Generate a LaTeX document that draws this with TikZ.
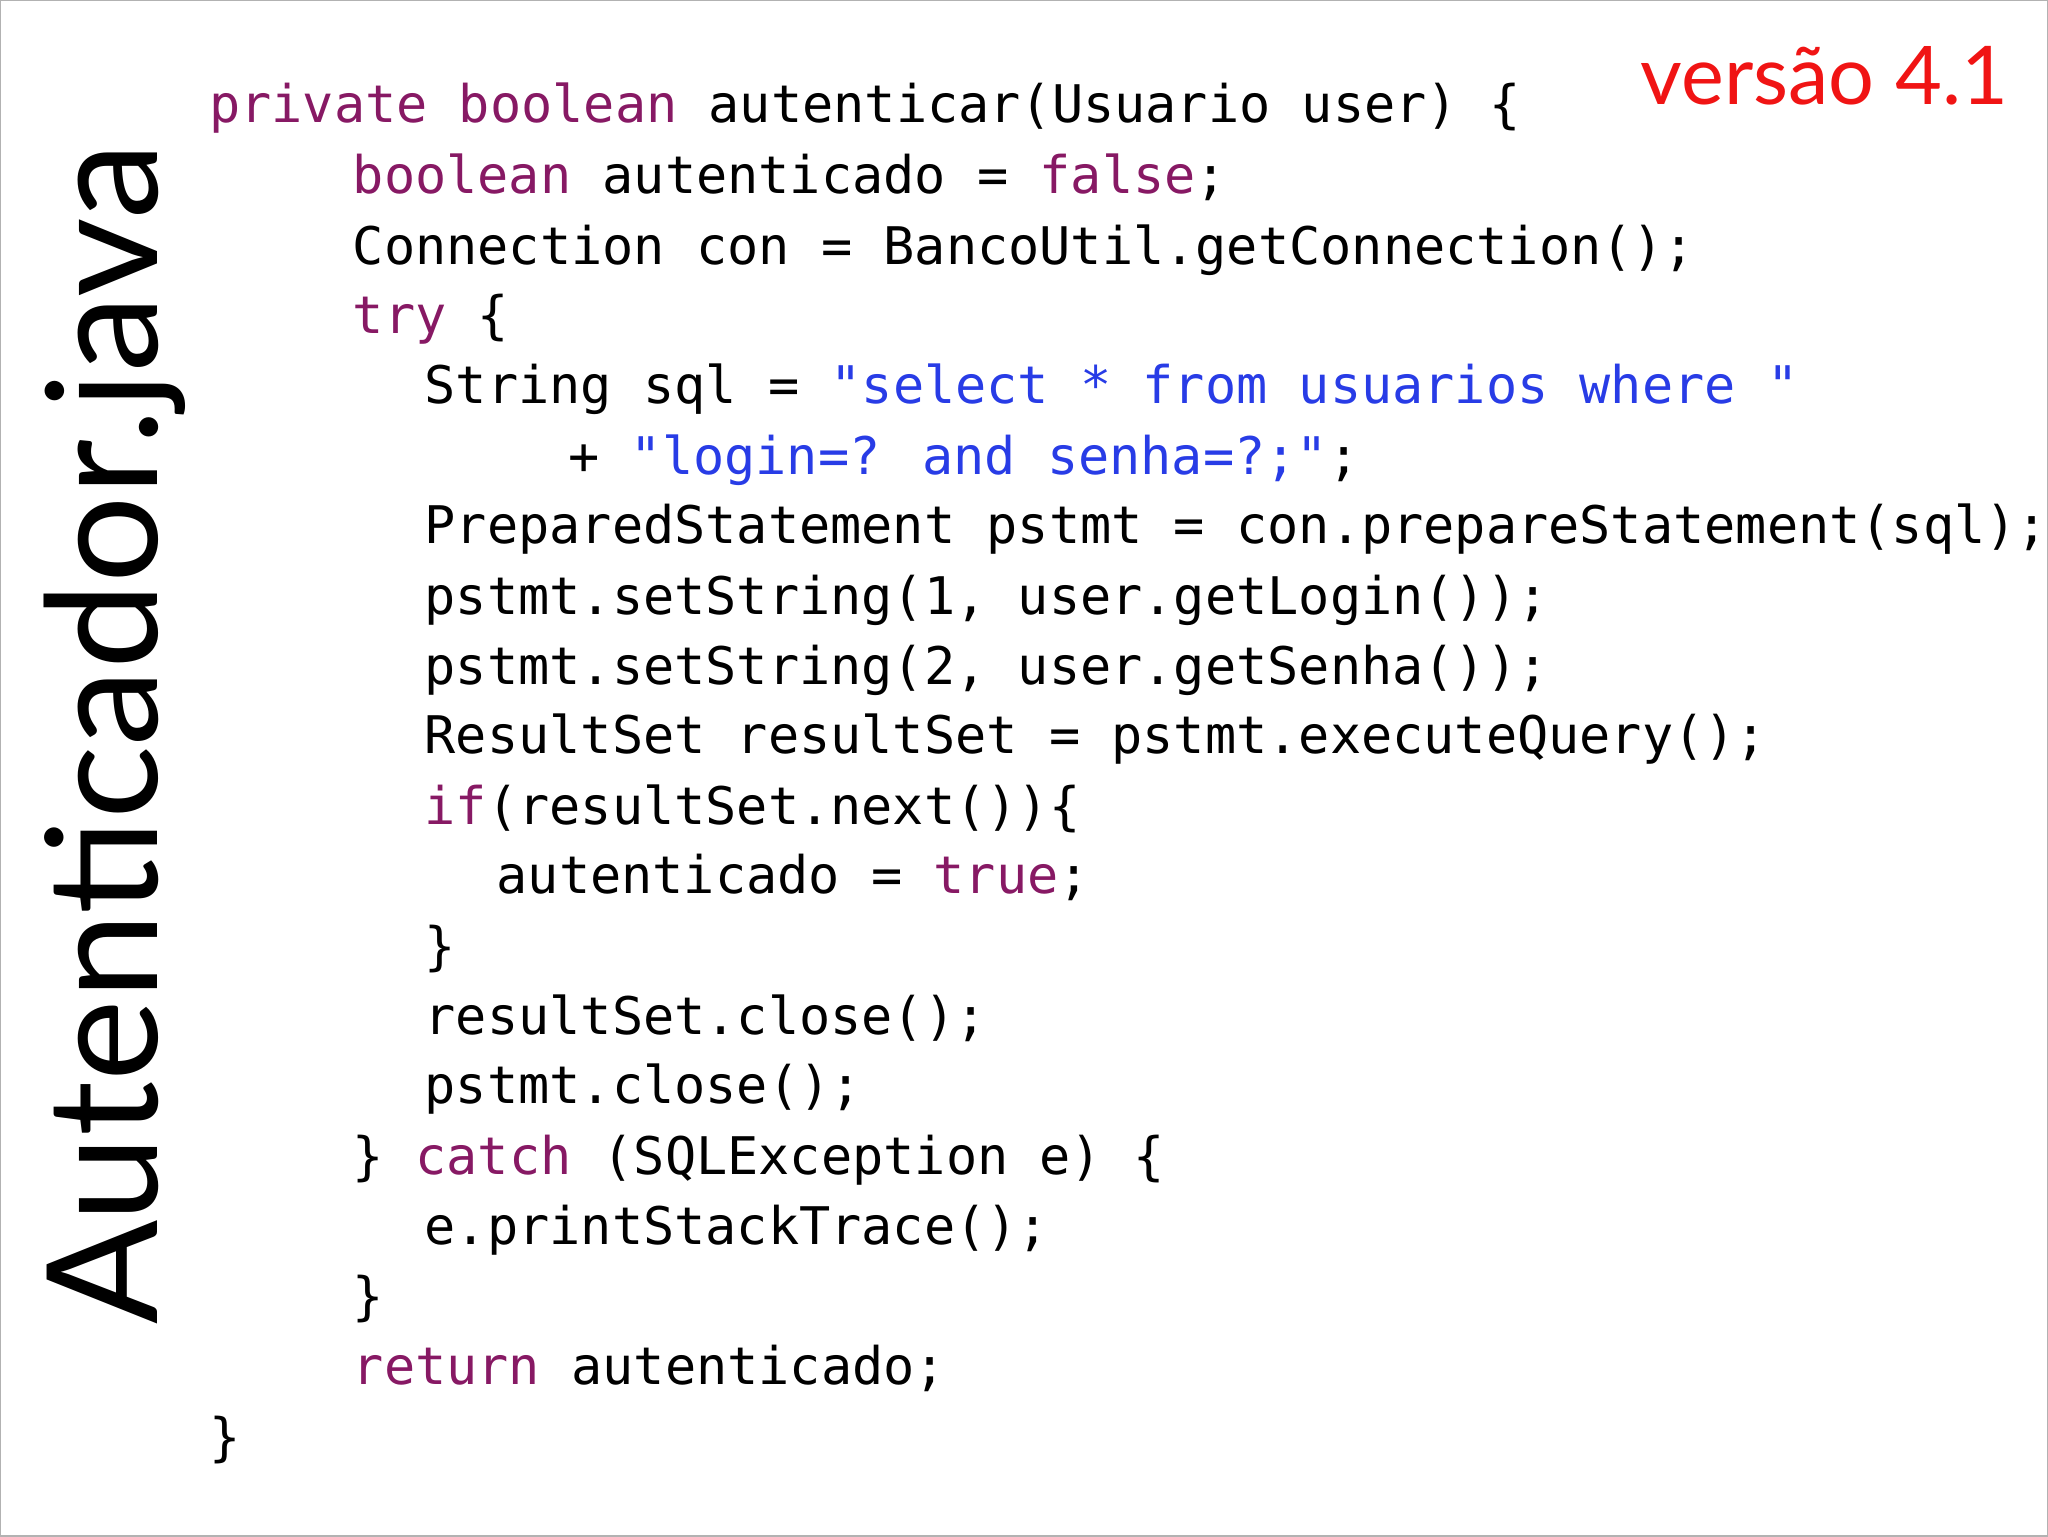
\documentclass[tikz,border=0pt]{standalone}
\usepackage{fontspec}
\newfontfamily\codef{DejaVu Sans Mono}
\newfontfamily\titlef{Lato}
\definecolor{kw}{RGB}{135,25,100}
\definecolor{st}{RGB}{40,60,230}
\definecolor{vr}{RGB}{240,20,20}
\newcommand{\K}[1]{\textcolor{kw}{#1}}
\newcommand{\St}[1]{\textcolor{st}{#1}}
\tikzset{code/.style={anchor=mid west,inner sep=0pt,font=\codef\fontsize{39.7}{40}\selectfont}}
\begin{document}
\begin{tikzpicture}[x=1pt,y=-1pt]
\useasboundingbox (0,0) rectangle (1568,1176);
\draw[gray!60,line width=1.5pt] (0,0) rectangle (1568,1176);
\node[anchor=center,rotate=90,inner sep=0pt,font=\titlef\fontsize{118}{120}\selectfont] (title) at (88,562) {Autenticador.java};
\node[anchor=east,inner sep=0pt,text=vr,font=\titlef\fontsize{62}{64}\selectfont] (ver) at (1538,58) {versão 4.1};
\begin{scope}[yshift=-12pt]
\node[code] (l1) at (160,80) {\K{private boolean} autenticar(Usuario user) \{};
\node[code] (l2) at (270,134) {\K{boolean} autenticado = \K{false};};
\node[code] (l3) at (270,188) {Connection con = BancoUtil.getConnection();};
\node[code] (l4) at (270,241) {\K{try} \{};
\node[code] (l5) at (325,295) {String sql = \St{"select * from usuarios where "}};
\node[code] (l6) at (435,349) {+ \St{"login=? and senha=?;"};};
\node[code] (l7) at (325,402) {PreparedStatement pstmt = con.prepareStatement(sql);};
\node[code] (l8) at (325,456) {pstmt.setString(1, user.getLogin());};
\node[code] (l9) at (325,510) {pstmt.setString(2, user.getSenha());};
\node[code] (l10) at (325,563) {ResultSet resultSet = pstmt.executeQuery();};
\node[code] (l11) at (325,617) {\K{if}(resultSet.next())\{};
\node[code] (l12) at (380,670) {autenticado = \K{true};};
\node[code] (l13) at (325,724) {\}};
\node[code] (l14) at (325,778) {resultSet.close();};
\node[code] (l15) at (325,831) {pstmt.close();};
\node[code] (l16) at (270,885) {\} \K{catch} (SQLException e) \{};
\node[code] (l17) at (325,939) {e.printStackTrace();};
\node[code] (l18) at (270,992) {\}};
\node[code] (l19) at (270,1046) {\K{return} autenticado;};
\node[code] (l20) at (160,1100) {\}};
\end{scope}
\end{tikzpicture}
\end{document}
